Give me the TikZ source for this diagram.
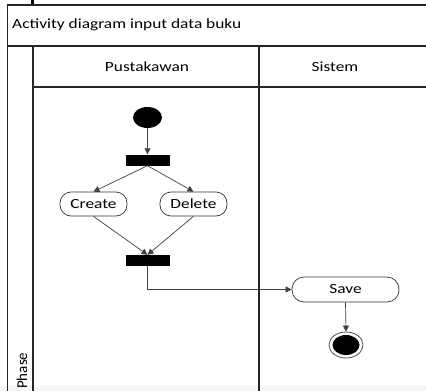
\documentclass[tikz,border=0pt]{standalone}
\usepackage{fontspec}
\setmainfont{Carlito}
\usetikzlibrary{arrows.meta,shapes.geometric}
\newcommand\stretchtxt[1]{\scalebox{1.24}[1]{#1}}
\tikzset{
  lane/.style={draw=black!85, line width=1.1pt},
  act/.style={draw=black!80, line width=0.7pt, rounded corners=11pt, minimum height=24pt, inner sep=0pt, font=\fontsize{14}{16}\selectfont},
  bar/.style={fill=black, draw=none, minimum width=44pt, minimum height=11pt, inner sep=0pt},
  flow/.style={draw=black!75, line width=0.7pt, -{Triangle[length=6pt,width=6pt]}},
  lbl/.style={font=\fontsize{14}{16}\selectfont, inner sep=0pt}
}
\begin{document}
\begin{tikzpicture}[x=1pt,y=-1pt]
\useasboundingbox (0,0) rectangle (426,391);
\fill[white] (0,0) rectangle (426,391);
\fill[black!4] (0,386) rectangle (426,391);
% clipped mark at top
\fill[black] (31,0) rectangle (33.5,4);
% frame
\draw[lane] (426,5) -- (7.5,5) -- (7.5,391);
\draw[lane] (7.5,46) -- (426,46);
\draw[lane] (33,46) -- (33,391);
\draw[lane] (33,87) -- (426,87);
\draw[lane] (259,46) -- (259,391);
% texts
\node[lbl, anchor=west] (title) at (12,25) {\stretchtxt{Activity diagram input data buku}};
\node[lbl] (hp) at (147,67) {\stretchtxt{Pustakawan}};
\node[lbl] (hs) at (335,67) {\stretchtxt{Sistem}};
\node[lbl, font=\fontsize{15}{17}\selectfont, rotate=90, anchor=west] (phase) at (22,389) {Phase};
% nodes
\node[ellipse, fill=black, minimum width=29pt, minimum height=21pt, inner sep=0pt] (start) at (147.5,117.5) {};
\node[bar] (fork) at (147.5,160) {};
\node[act, minimum width=67pt] (create) at (93.5,204) {\stretchtxt{Create}};
\node[act, minimum width=67pt] (delete) at (193.5,204) {\stretchtxt{Delete}};
\node[bar] (join) at (147.5,260.5) {};
\node[act, minimum width=107pt, rounded corners=12pt, minimum height=25pt] (save) at (345.5,289.5) {\stretchtxt{Save}};
\node[ellipse, draw=black!70, line width=0.8pt, minimum width=34pt, minimum height=26pt, inner sep=0pt] (end) at (346,345) {};
\node[ellipse, fill=black, minimum width=27pt, minimum height=20pt, inner sep=0pt] at (end.center) {};
% flows
\draw[flow] (start) -- (fork.north);
\draw[flow] (fork.south) -- (create.north);
\draw[flow] (fork.south) -- (delete.north);
\draw[flow] (create.south) -- (join.north);
\draw[flow] (delete.south) -- (join.north);
\draw[flow] (join.south) |- (save.west);
\draw[flow] (save.south) -- (end.north);
\end{tikzpicture}
\end{document}
